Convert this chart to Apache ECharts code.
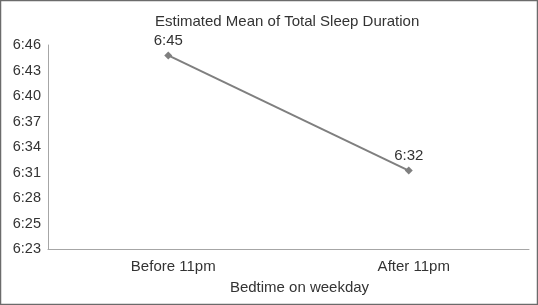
<!DOCTYPE html>
<html>
<head>
<meta charset="utf-8">
<script src="https://cdn.jsdelivr.net/npm/echarts@6/dist/echarts.min.js"></script>
<style>
  html, body { margin: 0; padding: 0; background: #fff; }
  #sleep-chart { width: 538px; height: 305px; }
</style>
</head>
<body>
<div id="sleep-chart"></div>
<script>
// bedtime groups
var categories = ['Before 11pm', 'After 11pm'];
// estimated mean sleep, minutes after midnight
var sleepMinutes = [404.9, 391.9];
var pointLabels = ['6:45', '6:32'];
// axis in minutes: 0.266 .. 0.282 day, step 0.002 day
var axisMin = 383.04;
var axisMax = 406.08;
var axisStep = 2.88;

function toClock(m) {
    var t = Math.floor(m + 1e-6);
    var h = Math.floor(t / 60);
    var mm = t % 60;
    return h + ':' + (mm < 10 ? '0' + mm : mm);
}

var sleepChart = echarts.init(document.getElementById('sleep-chart'));

var sleepChartOption = {
    animation: false,
    textStyle: { fontFamily: 'Liberation Sans, Arial, sans-serif' },
    title: {
        text: 'Estimated Mean of Total Sleep Duration',
        left: 150,
        top: 9,
        textStyle: { fontSize: 15, fontWeight: 'normal', color: '#333' }
    },
    graphic: [{
        type: 'rect',
        shape: { x: 0.5, y: 0.5, width: 537, height: 304 },
        style: { fill: 'none', stroke: '#6b6b6b', lineWidth: 1.5 },
        silent: true
    }],
    grid: { left: 48, right: 9, top: 45, bottom: 56 },
    xAxis: {
        type: 'category',
        data: categories,
        name: 'Bedtime on weekday',
        nameLocation: 'middle',
        nameGap: 31,
        nameTextStyle: { fontSize: 15, color: '#333', padding: [0, 0, 0, 22] },
        axisLine: { lineStyle: { color: '#a6a6a6', width: 1 } },
        axisTick: { show: false },
        axisLabel: { fontSize: 15, color: '#333', margin: 10, padding: [0, 0, 0, 10] }
    },
    yAxis: {
        type: 'value',
        min: axisMin,
        max: axisMax,
        interval: axisStep,
        axisLine: { show: true, lineStyle: { color: '#a6a6a6', width: 1 } },
        axisTick: { show: false },
        splitLine: { show: false },
        axisLabel: {
            fontSize: 14.5, color: '#333', margin: 7,
            formatter: function (v) { return toClock(v); }
        }
    },
    series: [{
        type: 'line',
        data: sleepMinutes,
        symbol: 'diamond',
        symbolSize: 8,
        lineStyle: { color: '#7f7f7f', width: 2 },
        itemStyle: { color: '#7f7f7f' },
        label: {
            show: true,
            position: 'top',
            distance: 3,
            fontSize: 15,
            color: '#333',
            formatter: function (p) { return pointLabels[p.dataIndex]; }
        }
    }]
};

sleepChart.setOption(sleepChartOption);
</script>
</body>
</html>
